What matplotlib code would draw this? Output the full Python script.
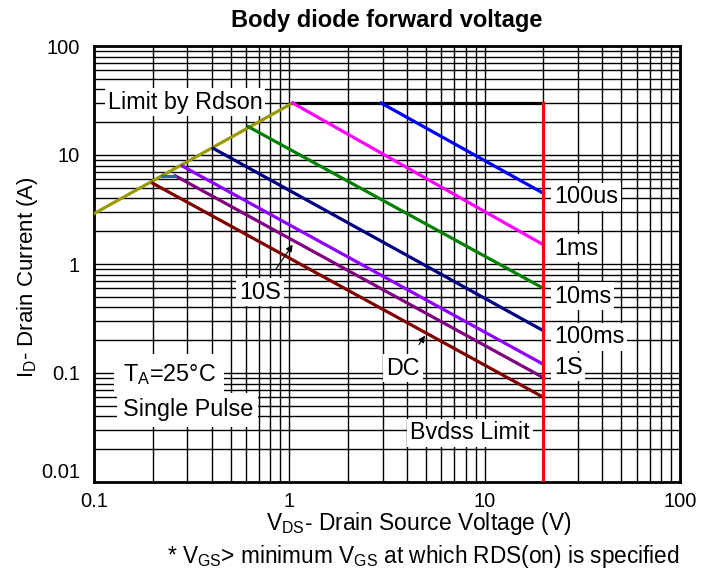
import matplotlib
matplotlib.use('Agg')
import matplotlib.pyplot as plt
from matplotlib.ticker import FixedLocator, LogLocator, NullFormatter

plt.rcParams['font.family'] = ['Liberation Sans', 'DejaVu Sans']
plt.rcParams['mathtext.fontset'] = 'custom'

# safe operating area data (V, A)
rdson_v = [0.1, 1.04]
rdson_i = [2.9, 30]
limit_v = [1.04, 20]
limit_i = [30, 30]
bvdss_v = [20, 20]
bvdss_i = [30, 0.01]

pulse_names = ['100us', '1ms', '10ms', '100ms', '1S', '10S', 'DC']
pulse_colors = ['#0000FF', '#FF00FF', '#008000', '#000080', '#8F00FF', '#800080', '#800000']
v_start = [2.95, 1.04, 0.616, 0.408, 0.284, 0.26, 0.2]
i_start = [30, 30, 18.2, 11.5, 7.9, 6.46, 5.5]
v_end = [20, 20, 20, 20, 20, 20, 20]
i_end = [4.45, 1.5, 0.598, 0.244, 0.12, 0.0906, 0.0598]

step_v = [0.222, 0.26]
step_i = [6.46, 6.46]

x_ticks = [0.1, 1, 10, 100]
x_labels = ['0.1', '1', '10', '100']
y_ticks = [0.01, 0.1, 1, 10, 100]
y_labels = ['0.01', '0.1', '1', '10', '100']

fig = plt.figure(figsize=(7.17, 5.75), dpi=100)
ax = fig.add_axes([94 / 717, 1 - 482 / 575, 586 / 717, 436 / 575])
ax.set_xscale('log')
ax.set_yscale('log')
ax.set_xlim(0.1, 100)
ax.set_ylim(0.01, 100)

ax.xaxis.set_major_locator(FixedLocator(x_ticks))
ax.yaxis.set_major_locator(FixedLocator(y_ticks))
ax.set_xticklabels(x_labels)
ax.set_yticklabels(y_labels)
ax.xaxis.set_minor_locator(LogLocator(base=10, subs=range(2, 10)))
ax.yaxis.set_minor_locator(LogLocator(base=10, subs=range(2, 10)))
ax.xaxis.set_minor_formatter(NullFormatter())
ax.yaxis.set_minor_formatter(NullFormatter())
ax.tick_params(which='both', length=0, labelsize=14.5)
ax.tick_params(axis='x', pad=7)
ax.tick_params(axis='y', pad=10)
for lab in ax.get_yticklabels():
    lab.set_va('center_baseline')
ax.get_yticklabels()[0].set_va('bottom')

ax.grid(True, which='both', color='black', linewidth=1.0)
for s in ax.spines.values():
    s.set_linewidth(2.0)

lw = 2.3
ax.plot(rdson_v, rdson_i, color='#9A9A00', lw=lw, zorder=4)
ax.plot(limit_v, limit_i, color='black', lw=lw, zorder=4)
for name, c, v0, i0, v1, i1 in zip(pulse_names, pulse_colors, v_start, i_start, v_end, i_end):
    ax.plot([v0, v1], [i0, i1], color=c, lw=lw, zorder=4)
ax.plot(step_v, step_i, color='#336699', lw=lw, zorder=4)
ax.plot(bvdss_v, bvdss_i, color='#FF0000', lw=lw, zorder=5)

box = dict(facecolor='white', edgecolor='none', pad=2)
fs = 16.8
ax.text(0.292, 30.6, 'Limit by Rdson', fontsize=fs, ha='center', va='center', bbox=box, zorder=6)
right_y = [4.12, 1.40, 0.508, 0.214, 0.1135]
for name, y in zip(pulse_names[:5], right_y):
    ax.text(22.6, y, name, fontsize=fs, ha='left', va='center', bbox=box, zorder=6)
ax.text(8.42, 0.0282, 'Bvdss Limit', fontsize=fs, ha='center', va='center', bbox=box, zorder=6)
ax.text(0.14, 0.096, r'T$_{\mathregular{A}}$=25°C', fontsize=fs, ha='left', va='center',
        bbox=dict(facecolor='white', edgecolor='none', pad=6), zorder=6)
ax.text(0.14, 0.0458, 'Single Pulse', fontsize=fs, ha='left', va='center',
        bbox=dict(facecolor='white', edgecolor='none', pad=4), zorder=6)

ax.annotate('10S', xy=(1.04, 1.5), xytext=(0.708, 0.553), fontsize=fs, ha='center', va='center',
            bbox=box, zorder=6,
            arrowprops=dict(arrowstyle='-|>', color='black', lw=0.8, mutation_scale=10,
                            shrinkA=8, shrinkB=0))
ax.annotate('DC', xy=(4.95, 0.22), xytext=(3.82, 0.111), fontsize=fs, ha='center', va='center',
            bbox=box, zorder=6,
            arrowprops=dict(arrowstyle='-|>', color='black', lw=0.8, mutation_scale=10,
                            shrinkA=8, shrinkB=0))

ax.set_title('Body diode forward voltage', fontsize=17, fontweight='bold', pad=14)

ax.set_xlabel(r'V$_{\mathregular{DS}}$- Drain Source Voltage (V)', fontsize=16.4)
ax.xaxis.set_label_coords(0.555, -0.065)
ax.set_ylabel(r'I$_{\mathregular{D}}$- Drain Current (A)', fontsize=16)
ax.yaxis.set_label_coords(-0.092, 0.47)
fig.text(0.59, 1 - 557 / 575, r'* V$_{\mathregular{GS}}$> minimum V$_{\mathregular{GS}}$ at which RDS(on) is specified',
         fontsize=16.3, ha='center', va='center')

plt.savefig('out.png', dpi=100)
